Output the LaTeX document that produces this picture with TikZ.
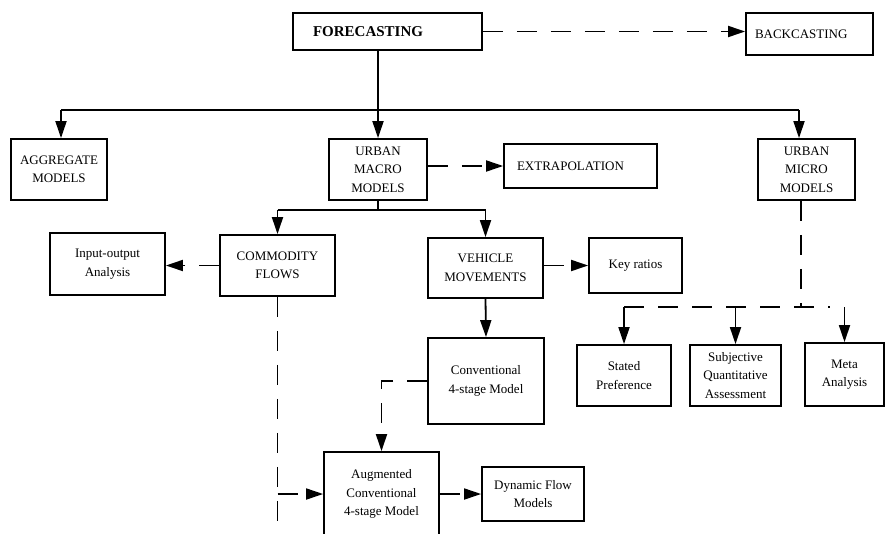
\documentclass[tikz,border=0pt]{standalone}
\usepackage{fontspec}
\setmainfont{Liberation Serif}
\usetikzlibrary{arrows.meta,positioning}
\tikzset{box/.style={draw, rectangle, line width=1.8pt, align=center, inner sep=0pt, font=\fontsize{13}{18.5}\selectfont},
  link/.style={line width=1.8pt},
  flow/.style={link, -{Triangle[length=17pt,width=11pt]}},
  dashlink/.style={link, dash pattern=on 20pt off 14pt},
  dashflow/.style={flow, dash pattern=on 20pt off 14pt}}

\begin{document}
\begin{tikzpicture}[x=1pt, y=-1pt]
    \useasboundingbox (0,0) rectangle (885,533);
    \node[box, text width=149pt, inner xsep=20pt, minimum height=37pt, align=left, font=\fontsize{15}{18}\selectfont\bfseries] (fore) at (387.5,31.5) {FORECASTING};
    \node[box, text width=109pt, inner xsep=9pt, minimum height=42pt, align=left] (back) at (809.5,34) {BACKCASTING};
    \node[box, minimum width=96pt, minimum height=61pt] (agg) at (59,169.5) {AGGREGATE\\MODELS};
    \node[box, minimum width=98pt, minimum height=61pt] (macro) at (378,169.5) {URBAN\\MACRO\\MODELS};
    \node[box, text width=127pt, inner xsep=13pt, minimum height=44pt, align=left] (extra) at (580.5,166) {EXTRAPOLATION};
    \node[box, minimum width=97pt, minimum height=61pt] (micro) at (806.5,169.5) {URBAN\\MICRO\\MODELS};
    \node[box, minimum width=115pt, minimum height=62pt] (io) at (107.5,264) {Input-output\\Analysis};
    \node[box, minimum width=115pt, minimum height=61pt] (comm) at (277.5,265.5) {COMMODITY\\FLOWS};
    \node[box, minimum width=115pt, minimum height=60pt] (veh) at (485.5,268) {VEHICLE\\MOVEMENTS};
    \node[box, minimum width=93pt, minimum height=55pt] (key) at (635.5,265.5) {Key ratios};
    \node[box, minimum width=116pt, minimum height=86pt] (conv) at (486,381) {Conventional\\4-stage Model};
    \node[box, minimum width=94pt, minimum height=61pt] (stated) at (624,375.5) {Stated\\Preference};
    \node[box, minimum width=91pt, minimum height=61pt] (subj) at (735.5,375.5) {Subjective\\Quantitative\\Assessment};
    \node[box, minimum width=79pt, minimum height=63pt] (meta) at (844.5,374.5) {Meta\\Analysis};
    \node[box, minimum width=115pt, minimum height=84pt] (aug) at (381.5,494) {Augmented\\Conventional\\4-stage Model};
    \node[box, minimum width=102pt, minimum height=54pt] (dyn) at (533,494) {Dynamic Flow\\Models};
    \coordinate (barL) at (61,110);
    \coordinate (barR) at (799,110);
    \coordinate (split) at (378,210);
    \coordinate (fan) at (801,307);
    \coordinate (fanEnd) at (830,307);
    \coordinate (commEnd) at (274,540);

    \draw[dashflow] (fore.east) -- (fore.east -| back.west);
    \draw[flow] (macro.north |- fore.south) -- (macro.north);
    \draw[link] (barL) -- (barR);
    \draw[flow] (barL) -- (barL |- agg.north);
    \draw[flow] (barR) -- (barR |- micro.north);
    \draw[dashflow] (macro.east |- extra.west) -- (extra.west);
    \draw[link] (macro.south) -- (split);
    \draw[link] (split -| comm.north) -- (split -| veh.north);
    \draw[flow] (split -| comm.north) -- (comm.north);
    \draw[flow] (split -| veh.north) -- (veh.north);
    \draw[dashflow] (comm.west) -- (comm.west -| io.east);
    \draw[dashflow] (veh.east |- key.west) -- (key.west);
    \draw[flow] (veh.south) -- (conv.north);
    \draw[dashlink] (micro.south -| fan) -- (fan);
    \draw[dashlink] (fan -| stated.north) -- (fanEnd);
    \draw[flow] (fan -| stated.north) -- (stated.north);
    \draw[flow] (fan -| subj.north) -- (subj.north);
    \draw[flow] (fan -| meta.north) -- (meta.north);
    \draw[dashflow] (conv.west) -| (aug.north);
    \draw[dashlink] (comm.south) -- (comm.south |- commEnd);
    \draw[dashflow] (comm.south |- aug.west) -- (aug.west);
    \draw[dashflow] (aug.east) -- (dyn.west);
\end{tikzpicture}
\end{document}
